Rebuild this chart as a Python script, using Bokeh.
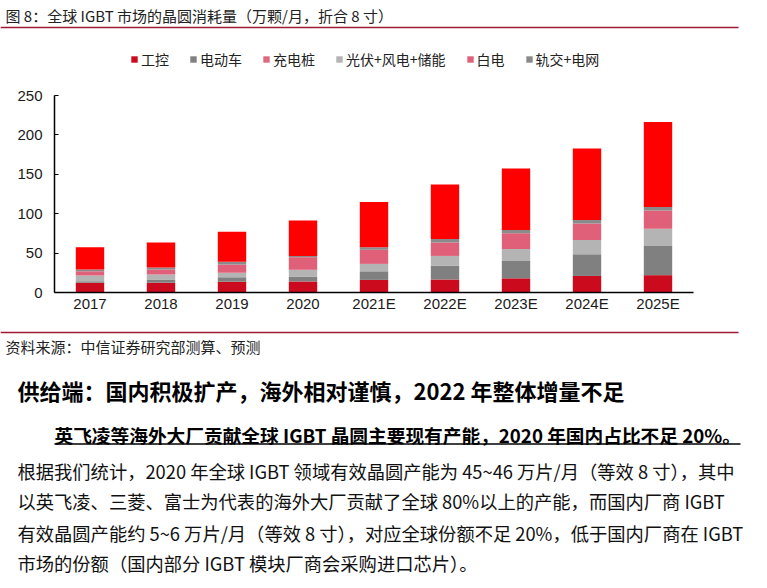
from bokeh.plotting import figure
from bokeh.models import (Range1d, Legend, LegendItem, ColumnDataSource, FixedTicker)
from bokeh.core.properties import value
from bokeh.embed import file_html
from bokeh.resources import INLINE

# ---------------- data ----------------
years = ["2017", "2018", "2019", "2020", "2021E", "2022E", "2023E", "2024E", "2025E"]
ind_ctrl = [12.4, 12.4, 13.7, 14.0, 16.0, 16.5, 18.0, 21.0, 22.0]        # 工控
ev = [2.0, 4.2, 5.5, 6.3, 10.9, 17.7, 22.0, 27.5, 37.0]                  # 电动车
charging = [0, 0, 0, 0, 0, 0, 0, 0, 0]                                   # 充电桩
pv_wind_storage = [7.2, 6.3, 5.8, 8.5, 9.4, 12.2, 15.2, 18.1, 22.0]      # 光伏+风电+储能
white_goods = [5.5, 6.3, 10.6, 16.0, 18.1, 16.9, 19.9, 21.1, 23.2]       # 白电
rail_grid = [2.1, 2.5, 3.3, 1.5, 2.9, 4.5, 4.2, 4.2, 4.2]                # 轨交+电网
top_part = [28.1, 31.9, 38.1, 45.2, 57.7, 69.2, 78.1, 90.8, 108.1]       # 顶部红色部分

series_names = ["工控", "电动车", "充电桩", "光伏+风电+储能", "白电", "轨交+电网"]
y_ticks = [0, 50, 100, 150, 200, 250]
y_max = 250

title_text = "图 8：全球 IGBT 市场的晶圆消耗量（万颗/月，折合 8 寸）"
source_text = "资料来源：中信证券研究部测算、预测"
heading_text = "供给端：国内积极扩产，海外相对谨慎，2022 年整体增量不足"
sub_heading_text = "英飞凌等海外大厂贡献全球 IGBT 晶圆主要现有产能，2020 年国内占比不足 20%。"
para_lines = [
    "根据我们统计，2020 年全球 IGBT 领域有效晶圆产能为 45~46 万片/月（等效 8 寸），其中",
    "以英飞凌、三菱、富士为代表的海外大厂贡献了全球 80%以上的产能，而国内厂商 IGBT",
    "有效晶圆产能约 5~6 万片/月（等效 8 寸），对应全球份额不足 20%，低于国内厂商在 IGBT",
    "市场的份额（国内部分 IGBT 模块厂商会采购进口芯片）。",
]

# ---------------- layout constants (canvas pixels) ----------------
CJK = "Noto Sans CJK SC"
W, H = 751, 580
FL, FR, FT, FB = 54, 693, 95, 292   # chart plotting area on the canvas
RED_LINE = "#9e1b32"

n = len(years)
ppc = (FR - FL) / n            # pixels per category
ppu = (FB - FT) / y_max        # pixels per unit
x_rng = Range1d(-0.5 - FL / ppc, n - 0.5 + (W - FR) / ppc)
y_rng = Range1d(-(H - FB) / ppu, y_max + FT / ppu)

idx = list(range(n))
src = ColumnDataSource(dict(x=idx, a=ind_ctrl, b=ev, c=charging, d=pv_wind_storage,
                            e=white_goods, f=rail_grid, g=top_part))
p = figure(width=W, height=H, x_range=x_rng, y_range=y_rng,
           toolbar_location=None, output_backend="svg", outline_line_color=None,
           min_border=0)
p.min_border_left = p.min_border_right = p.min_border_top = p.min_border_bottom = 0
p.extra_x_ranges = {"px": Range1d(0, W)}
p.extra_y_ranges = {"py": Range1d(H, 0)}

colors = ["#cc0a1e", "#808080", "#de6a7e", "#b4b4b4", "#e0607a", "#8a8a8a", "#ff0000"]
rs = p.vbar_stack(["a", "b", "c", "d", "e", "f", "g"], x="x", width=0.4, source=src,
                  fill_color=colors, line_color=None)

p.xgrid.visible = False
p.ygrid.visible = False
p.yaxis.ticker = FixedTicker(ticks=y_ticks)
p.xaxis.ticker = FixedTicker(ticks=idx)
p.xaxis.major_label_overrides = {i: yr for i, yr in zip(idx, years)}
p.yaxis.fixed_location = -0.5
p.yaxis.bounds = (0, y_max)
p.xaxis.fixed_location = 0
p.xaxis.bounds = (-0.5, n - 0.5)
for ax in (p.xaxis, p.yaxis):
    ax.axis_line_color = "black"
    ax.axis_line_width = 1.5
    ax.major_label_text_font = "Liberation Sans"
    ax.major_label_text_font_size = "15px"
    ax.major_label_text_color = "#1a1a1a"
    ax.minor_tick_line_color = None
p.yaxis.major_tick_in = 4
p.yaxis.major_tick_out = 0
p.yaxis.major_tick_line_color = "black"
p.yaxis.major_label_standoff = 12
p.xaxis.major_tick_line_color = None
p.xaxis.major_tick_in = 0
p.xaxis.major_tick_out = 0
p.xaxis.major_label_standoff = 2

items = [LegendItem(label=nm, renderers=[rs[i]]) for i, nm in enumerate(series_names)]
legend = Legend(items=items, orientation="horizontal", location=(130, H - 62 - 7),
                label_text_font=CJK, label_text_font_size="14px", label_text_color="#222222",
                glyph_width=8, glyph_height=8, label_standoff=3, spacing=20, label_height=14,
                padding=0, margin=0, border_line_color=None, background_fill_alpha=0)
p.add_layout(legend, "center")


def add_text(x, y, txt, size, bold=False, color="#222222"):
    p.text(x=[x], y=[y], text=[txt], x_range_name="px", y_range_name="py",
           text_font=value(CJK), text_font_size=size,
           text_font_style="bold" if bold else "normal",
           text_color=color, text_baseline="middle", text_align="left")


def add_rule(x0, x1, y, color, w=1.5):
    p.line(x=[x0, x1], y=[y, y], x_range_name="px", y_range_name="py",
           line_color=color, line_width=w)


# header
add_text(5, 14.5, title_text, "15px")
add_rule(0, 738, 27, RED_LINE)
# footer
add_rule(0, 738, 332, RED_LINE)
add_text(5, 345.5, source_text, "15px")
add_text(17, 389.5, heading_text, "22px", bold=True, color="#000000")
add_text(54, 433.5, sub_heading_text, "18.7px", bold=True, color="#000000")
add_rule(54, 740, 443.5, "#000000")
for yy, line in zip([470, 500, 532, 562.5], para_lines):
    add_text(17, yy, line, "18.3px", color="#111111")

open("out.html", "w").write(file_html(p, INLINE))
